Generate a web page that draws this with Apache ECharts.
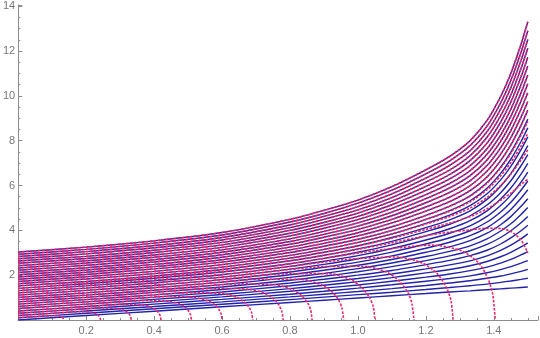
<!DOCTYPE html>
<html><head><meta charset="utf-8">
<script src="https://cdn.jsdelivr.net/npm/echarts@6/dist/echarts.min.js"></script>
<style>html,body{margin:0;padding:0;background:#fff}#c{width:540px;height:338px}</style>
</head><body><div id="c"></div>
<script>
// x positions shared by the blue family
const xs = [0, 0.2, 0.4, 0.6, 0.8, 0.9, 1.0, 1.1, 1.2, 1.27, 1.33, 1.38, 1.42, 1.45, 1.48, 1.5];
// blue solid curves (31 curves, start value 0.0 .. 3.0)
const blueY = [
 [0, .20, .39, .59, .78, .88, .98, 1.08, 1.18, 1.25, 1.30, 1.35, 1.39, 1.42, 1.45, 1.47],
 [.10, .30, .50, .70, .91, 1.02, 1.13, 1.24, 1.36, 1.45, 1.53, 1.60, 1.68, 1.74, 1.81, 1.86],
 [.20, .40, .60, .81, 1.03, 1.15, 1.27, 1.40, 1.54, 1.65, 1.75, 1.86, 1.96, 2.06, 2.17, 2.26],
 [.30, .50, .71, .92, 1.15, 1.28, 1.42, 1.57, 1.73, 1.85, 1.97, 2.11, 2.25, 2.38, 2.54, 2.65],
 [.40, .60, .81, 1.03, 1.28, 1.42, 1.56, 1.73, 1.91, 2.05, 2.20, 2.36, 2.54, 2.70, 2.90, 3.05],
 [.51, .71, .92, 1.14, 1.40, 1.55, 1.71, 1.89, 2.10, 2.25, 2.42, 2.61, 2.82, 3.02, 3.26, 3.44],
 [.61, .81, 1.02, 1.25, 1.53, 1.68, 1.85, 2.05, 2.28, 2.46, 2.64, 2.86, 3.11, 3.34, 3.62, 3.84],
 [.71, .91, 1.12, 1.36, 1.65, 1.82, 2.00, 2.21, 2.47, 2.66, 2.87, 3.11, 3.39, 3.66, 3.98, 4.23],
 [.81, 1.01, 1.23, 1.47, 1.77, 1.95, 2.15, 2.38, 2.65, 2.86, 3.09, 3.37, 3.68, 3.98, 4.34, 4.62],
 [.91, 1.11, 1.33, 1.58, 1.90, 2.08, 2.29, 2.54, 2.83, 3.06, 3.31, 3.62, 3.97, 4.29, 4.71, 5.02],
 [1.01, 1.21, 1.44, 1.69, 2.02, 2.22, 2.44, 2.70, 3.02, 3.26, 3.54, 3.87, 4.25, 4.61, 5.07, 5.41],
 [1.11, 1.32, 1.54, 1.80, 2.14, 2.35, 2.58, 2.86, 3.20, 3.47, 3.76, 4.12, 4.54, 4.93, 5.43, 5.81],
 [1.21, 1.42, 1.65, 1.91, 2.27, 2.48, 2.73, 3.03, 3.39, 3.67, 3.98, 4.37, 4.82, 5.25, 5.79, 6.20],
 [1.31, 1.52, 1.75, 2.02, 2.39, 2.62, 2.87, 3.19, 3.57, 3.87, 4.20, 4.62, 5.11, 5.57, 6.15, 6.60],
 [1.41, 1.62, 1.86, 2.14, 2.51, 2.75, 3.02, 3.35, 3.75, 4.07, 4.43, 4.87, 5.40, 5.89, 6.51, 6.99],
 [1.52, 1.72, 1.96, 2.25, 2.64, 2.89, 3.17, 3.51, 3.94, 4.27, 4.65, 5.13, 5.68, 6.21, 6.88, 7.38],
 [1.62, 1.83, 2.07, 2.36, 2.76, 3.02, 3.31, 3.68, 4.12, 4.47, 4.87, 5.38, 5.97, 6.53, 7.24, 7.78],
 [1.72, 1.93, 2.17, 2.47, 2.88, 3.15, 3.46, 3.84, 4.31, 4.68, 5.10, 5.63, 6.25, 6.85, 7.60, 8.17],
 [1.82, 2.03, 2.28, 2.58, 3.01, 3.29, 3.60, 4.00, 4.49, 4.88, 5.32, 5.88, 6.54, 7.17, 7.96, 8.57],
 [1.92, 2.13, 2.38, 2.69, 3.13, 3.42, 3.75, 4.16, 4.67, 5.08, 5.54, 6.13, 6.82, 7.49, 8.32, 8.96],
 [2.02, 2.23, 2.48, 2.80, 3.25, 3.55, 3.89, 4.33, 4.86, 5.28, 5.77, 6.38, 7.11, 7.81, 8.68, 9.36],
 [2.12, 2.33, 2.59, 2.91, 3.38, 3.69, 4.04, 4.49, 5.04, 5.48, 5.99, 6.64, 7.40, 8.13, 9.05, 9.75],
 [2.22, 2.44, 2.69, 3.02, 3.50, 3.82, 4.19, 4.65, 5.23, 5.69, 6.21, 6.89, 7.68, 8.45, 9.41, 10.14],
 [2.32, 2.54, 2.80, 3.13, 3.62, 3.95, 4.33, 4.81, 5.41, 5.89, 6.44, 7.14, 7.97, 8.77, 9.77, 10.54],
 [2.42, 2.64, 2.90, 3.24, 3.75, 4.09, 4.48, 4.98, 5.59, 6.09, 6.66, 7.39, 8.25, 9.08, 10.13, 10.93],
 [2.53, 2.74, 3.01, 3.35, 3.87, 4.22, 4.62, 5.14, 5.78, 6.29, 6.88, 7.64, 8.54, 9.40, 10.49, 11.33],
 [2.63, 2.84, 3.11, 3.46, 4.00, 4.35, 4.77, 5.30, 5.96, 6.49, 7.11, 7.89, 8.83, 9.72, 10.85, 11.72],
 [2.73, 2.95, 3.22, 3.57, 4.12, 4.49, 4.91, 5.46, 6.15, 6.69, 7.33, 8.15, 9.11, 10.04, 11.22, 12.12],
 [2.83, 3.05, 3.32, 3.68, 4.24, 4.62, 5.06, 5.63, 6.33, 6.90, 7.55, 8.40, 9.40, 10.36, 11.58, 12.51],
 [2.93, 3.15, 3.43, 3.79, 4.37, 4.75, 5.21, 5.79, 6.52, 7.10, 7.78, 8.65, 9.68, 10.68, 11.94, 12.90],
 [3.03, 3.25, 3.53, 3.90, 4.49, 4.89, 5.35, 5.95, 6.70, 7.30, 8.00, 8.90, 9.97, 11.00, 12.30, 13.30]
];
// red dashed curves that fall to zero (start values 0.1 .. 1.4)
const redDropX = [
 [0, .067, .101, .117, .125, .129, .132, .133, .134],
 [0, .121, .182, .211, .225, .234, .238, .241, .242],
 [0, .167, .250, .290, .310, .321, .328, .331, .333],
 [0, .21, .315, .365, .391, .405, .414, .418, .42],
 [0, .255, .383, .444, .474, .492, .502, .507, .51],
 [0, .30, .45, .522, .558, .579, .591, .597, .60],
 [0, .345, .518, .600, .642, .666, .680, .687, .69],
 [0, .39, .585, .679, .725, .753, .768, .776, .78],
 [0, .433, .649, .753, .805, .835, .852, .861, .865],
 [0, .479, .719, .834, .891, .925, .944, .953, .958],
 [0, .525, .788, .914, .977, 1.013, 1.034, 1.045, 1.05],
 [0, .583, .874, 1.014, 1.084, 1.124, 1.148, 1.159, 1.165],
 [0, .64, .96, 1.114, 1.190, 1.235, 1.261, 1.274, 1.28],
 [0, .702, 1.053, 1.222, 1.306, 1.355, 1.383, 1.397, 1.404]
];
const redDropY = [
 [.10, .17, .19, .19, .16, .12, .09, .05, 0],
 [.20, .32, .37, .36, .30, .24, .16, .10, 0],
 [.30, .47, .54, .51, .44, .34, .24, .14, 0],
 [.40, .61, .70, .67, .58, .45, .31, .18, 0],
 [.51, .76, .87, .83, .72, .56, .39, .23, 0],
 [.61, .91, 1.05, 1.00, .86, .67, .46, .28, 0],
 [.71, 1.06, 1.22, 1.18, 1.02, .79, .55, .33, 0],
 [.81, 1.22, 1.41, 1.37, 1.19, .93, .65, .38, 0],
 [.91, 1.37, 1.61, 1.58, 1.37, 1.07, .75, .44, 0],
 [1.01, 1.53, 1.82, 1.81, 1.58, 1.24, .87, .52, 0],
 [1.11, 1.70, 2.06, 2.07, 1.82, 1.43, 1.00, .60, 0],
 [1.21, 1.89, 2.36, 2.40, 2.14, 1.70, 1.20, .72, 0],
 [1.31, 2.09, 2.69, 2.81, 2.54, 2.04, 1.43, .86, 0],
 [1.41, 2.31, 3.10, 3.34, 3.08, 2.55, 1.84, 1.13, 0]
];
// red dashed curves that bend away near the right edge (start values 1.5 .. 1.9), on xs
const redBendY = [
 [1.52, 1.72, 1.96, 2.25, 2.64, 2.88, 3.15, 3.44, 3.76, 3.92, 4.02, 4.09, 4.08, 3.95, 3.57, 2.99],
 [1.62, 1.83, 2.07, 2.36, 2.76, 3.02, 3.30, 3.65, 4.04, 4.32, 4.61, 4.96, 5.34, 5.66, 6.04, 6.28],
 [1.72, 1.93, 2.17, 2.47, 2.88, 3.15, 3.46, 3.83, 4.28, 4.62, 4.99, 5.46, 6.00, 6.51, 7.13, 7.59],
 [1.82, 2.03, 2.28, 2.58, 3.01, 3.29, 3.60, 3.99, 4.48, 4.85, 5.27, 5.81, 6.43, 7.02, 7.76, 8.32],
 [1.92, 2.13, 2.38, 2.69, 3.13, 3.42, 3.75, 4.16, 4.66, 5.07, 5.52, 6.10, 6.78, 7.43, 8.24, 8.86]
];
const firstSameIndex = 20;  // from this curve on, red coincides with blue

const BLUE = '#2222aa', RED = '#ee2266';
function pts(x, y){ return x.map((v,i)=>[v,y[i]]); }
const series = [];
blueY.forEach(y=>series.push({type:'line',data:pts(xs,y),showSymbol:false,smooth:0.25,silent:true,
  lineStyle:{color:BLUE,width:1.4},z:2}));
const redStyle = {color:RED,width:1.6,type:[2.5,1.5]};
redDropY.forEach((y,i)=>series.push({type:'line',data:pts(redDropX[i],y),showSymbol:false,smooth:0.25,silent:true,lineStyle:redStyle,z:3}));
redBendY.forEach(y=>series.push({type:'line',data:pts(xs,y),showSymbol:false,smooth:0.25,silent:true,lineStyle:redStyle,z:3}));
blueY.slice(firstSameIndex).forEach(y=>series.push({type:'line',data:pts(xs,y),showSymbol:false,smooth:0.25,silent:true,lineStyle:redStyle,z:3}));

const axisCol = '#8c8c8c';
const chart = echarts.init(document.getElementById('c'), null, {renderer:'canvas'});
const on = (v,step)=>Math.abs(v/step-Math.round(v/step))<1e-6;
chart.setOption({
  animation:false,
  grid:{left:14,right:2,top:5,bottom:18,containLabel:false},
  xAxis:{type:'value',min:0,max:1.53,interval:0.2,
    axisLine:{onZero:true,lineStyle:{color:axisCol,width:1}},
    axisTick:{inside:true,length:4,lineStyle:{color:axisCol}},
    minorTick:{show:true,splitNumber:4,length:2,lineStyle:{color:axisCol}},
    splitLine:{show:false},
    axisLabel:{color:'#777',fontFamily:'Liberation Sans',fontSize:11,margin:5,showMaxLabel:false,
      formatter:v=>(v<=0||v>1.45||!on(v,0.2))?'':v.toFixed(1)}},
  yAxis:{type:'value',min:0,max:14.05,interval:2,
    axisLine:{onZero:true,lineStyle:{color:axisCol,width:1}},
    axisTick:{inside:true,length:4,lineStyle:{color:axisCol}},
    minorTick:{show:true,splitNumber:4,length:2,lineStyle:{color:axisCol}},
    splitLine:{show:false},
    axisLabel:{color:'#777',fontFamily:'Liberation Sans',fontSize:11,margin:3,
      formatter:v=>(v<=0||!on(v,2))?'':String(v)}},
  series:series
});
</script></body></html>
